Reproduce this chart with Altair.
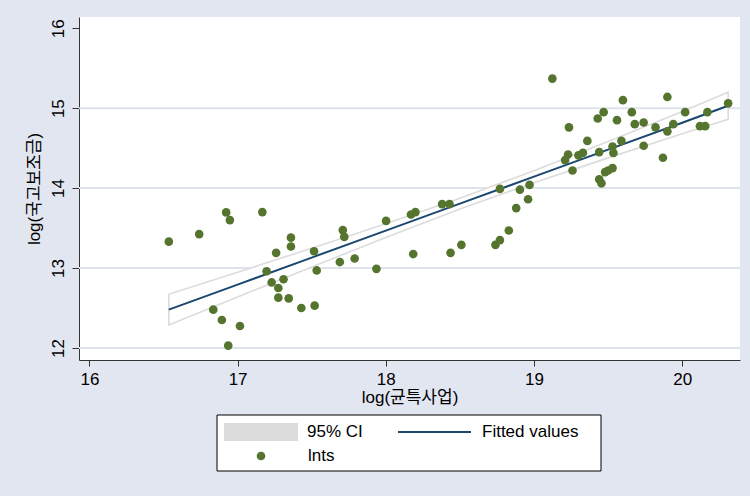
import altair as alt
import pandas as pd

# ---- data ----
x_vals = [16.536, 16.741, 16.923, 16.948, 17.167, 17.36, 17.36, 17.26, 17.516, 17.196,
          17.534, 17.23, 17.31, 17.275, 17.275, 17.345, 17.43, 17.52, 16.836, 16.894,
          17.016, 16.937, 17.69, 17.79, 17.71, 17.72, 17.937, 18.002, 18.17, 18.20,
          18.185, 18.38, 18.43, 18.437, 18.51, 18.74, 18.77, 18.83, 18.88, 18.77,
          18.905, 18.96, 18.97, 19.124, 19.236, 19.21, 19.23, 19.26, 19.30, 19.33,
          19.36, 19.43, 19.47, 19.44, 19.44, 19.455, 19.48, 19.50, 19.53, 19.53,
          19.536, 19.56, 19.59, 19.60, 19.66, 19.68, 19.74, 19.74, 19.82, 19.87,
          19.90, 19.90, 19.94, 20.02, 20.12, 20.155, 20.17, 20.31]
y_vals = [13.33, 13.425, 13.696, 13.60, 13.70, 13.38, 13.27, 13.19, 13.21, 12.96,
          12.97, 12.82, 12.86, 12.75, 12.63, 12.62, 12.50, 12.53, 12.48, 12.35,
          12.275, 12.03, 13.075, 13.12, 13.475, 13.39, 12.99, 13.59, 13.67, 13.70,
          13.175, 13.80, 13.80, 13.19, 13.29, 13.29, 13.35, 13.47, 13.75, 13.99,
          13.98, 13.86, 14.04, 15.37, 14.76, 14.35, 14.42, 14.22, 14.41, 14.44,
          14.59, 14.87, 14.95, 14.45, 14.11, 14.06, 14.20, 14.22, 14.25, 14.52,
          14.44, 14.85, 14.59, 15.10, 14.95, 14.80, 14.82, 14.53, 14.76, 14.38,
          15.14, 14.71, 14.80, 14.95, 14.775, 14.775, 14.95, 15.06]

fit_x = [16.536, 17.0, 17.5, 18.0, 18.5, 19.0, 19.5, 20.0, 20.31]
fit_y = [12.48, 12.793, 13.131, 13.468, 13.806, 14.143, 14.481, 14.818, 15.03]
ci_lo = [12.289, 12.639, 13.014, 13.383, 13.738, 14.068, 14.378, 14.679, 14.86]
ci_hi = [12.671, 12.947, 13.248, 13.553, 13.874, 14.218, 14.584, 14.957, 15.20]

x_ticks = [16, 17, 18, 19, 20]
y_ticks = [12, 13, 14, 15, 16]
grid_vals = [12, 13, 14, 15]

legend_labels = ["95% CI", "Fitted values", "lnts"]

x_title = "log(균특사업)"
y_title = "log(국고보조금)"

# ---- styling ----
BG = "#e2e6f0"
GRID = "#dfe3ee"
NAVY = "#1a476f"
GREEN = "#55752f"
CIGRAY = "#dcdcdc"
FONT = "Liberation Sans, Noto Sans CJK KR"
FS = 17

W, H = 661, 343

pts = pd.DataFrame({"x": x_vals, "y": y_vals})
fit = pd.DataFrame({"x": fit_x, "fit": fit_y, "lo": ci_lo, "hi": ci_hi})
grid = pd.DataFrame({"g": grid_vals})
one = pd.DataFrame({"a": [0]})

xscale = alt.Scale(domain=[15.93, 20.39], nice=False, zero=False)
yscale = alt.Scale(domain=[11.85, 16.14], nice=False, zero=False)

xaxis = alt.Axis(values=x_ticks, title=x_title, grid=False, tickSize=6,
                 labelPadding=5, titlePadding=2, labelFontSize=FS, titleFontSize=FS,
                 labelFont=FONT, titleFont=FONT, titleFontWeight="normal",
                 domainColor="#333333", tickColor="#333333", labelColor="#000000",
                 titleColor="#000000", format="d")
yaxis = alt.Axis(values=y_ticks, title=y_title, grid=False, tickSize=7,
                 labelAngle=-90, labelAlign="center", labelBaseline="bottom",
                 labelPadding=5, titlePadding=6, labelFontSize=FS, titleFontSize=FS,
                 labelFont=FONT, titleFont=FONT, titleFontWeight="normal",
                 domainColor="#333333", tickColor="#333333", labelColor="#000000",
                 titleColor="#000000", format="d")

gridlines = alt.Chart(grid).mark_rule(color=GRID, strokeWidth=2).encode(
    y=alt.Y("g:Q", scale=yscale, axis=yaxis)
)

band = alt.Chart(fit).mark_area(fill="#ffffff", stroke=CIGRAY, strokeWidth=1.6).encode(
    x=alt.X("x:Q", scale=xscale, axis=xaxis),
    y=alt.Y("lo:Q", scale=yscale),
    y2="hi:Q",
)

line = alt.Chart(fit).mark_line(color=NAVY, strokeWidth=2).encode(
    x=alt.X("x:Q", scale=xscale),
    y=alt.Y("fit:Q", scale=yscale),
)

scatter = alt.Chart(pts).mark_circle(color=GREEN, opacity=1, size=75).encode(
    x=alt.X("x:Q", scale=xscale),
    y=alt.Y("y:Q", scale=yscale),
)

# ---- legend (drawn below the plot) ----
base = alt.Chart(one)
leg_box = base.mark_rect(fill="#ffffff", stroke="#000000", strokeWidth=1).encode(
    x=alt.value(138), x2=alt.value(522), y=alt.value(398), y2=alt.value(454))
leg_ci = base.mark_rect(fill=CIGRAY).encode(
    x=alt.value(145), x2=alt.value(219), y=alt.value(406), y2=alt.value(424))
leg_line = base.mark_rule(color=NAVY, strokeWidth=2).encode(
    x=alt.value(319), x2=alt.value(392), y=alt.value(415))
leg_dot = base.mark_circle(color=GREEN, opacity=1, size=75).encode(
    x=alt.value(182), y=alt.value(439))
txt = dict(font=FONT, fontSize=FS, align="left", baseline="middle", color="#000000")
leg_t1 = base.mark_text(text=legend_labels[0], **txt).encode(x=alt.value(228), y=alt.value(415))
leg_t2 = base.mark_text(text=legend_labels[1], **txt).encode(x=alt.value(403), y=alt.value(415))
leg_t3 = base.mark_text(text=legend_labels[2], **txt).encode(x=alt.value(229), y=alt.value(439))

chart = alt.layer(
    gridlines, band, line, scatter,
    leg_box, leg_ci, leg_line, leg_dot, leg_t1, leg_t2, leg_t3,
).properties(
    width=W, height=H,
    background=BG,
    autosize=alt.AutoSizeParams(type="none"),
    padding={"left": 79, "top": 17, "right": 10, "bottom": 136},
).configure_view(
    fill="#ffffff", stroke=None
)

chart.save("out.html", embed_options={"renderer": "svg", "actions": False})
